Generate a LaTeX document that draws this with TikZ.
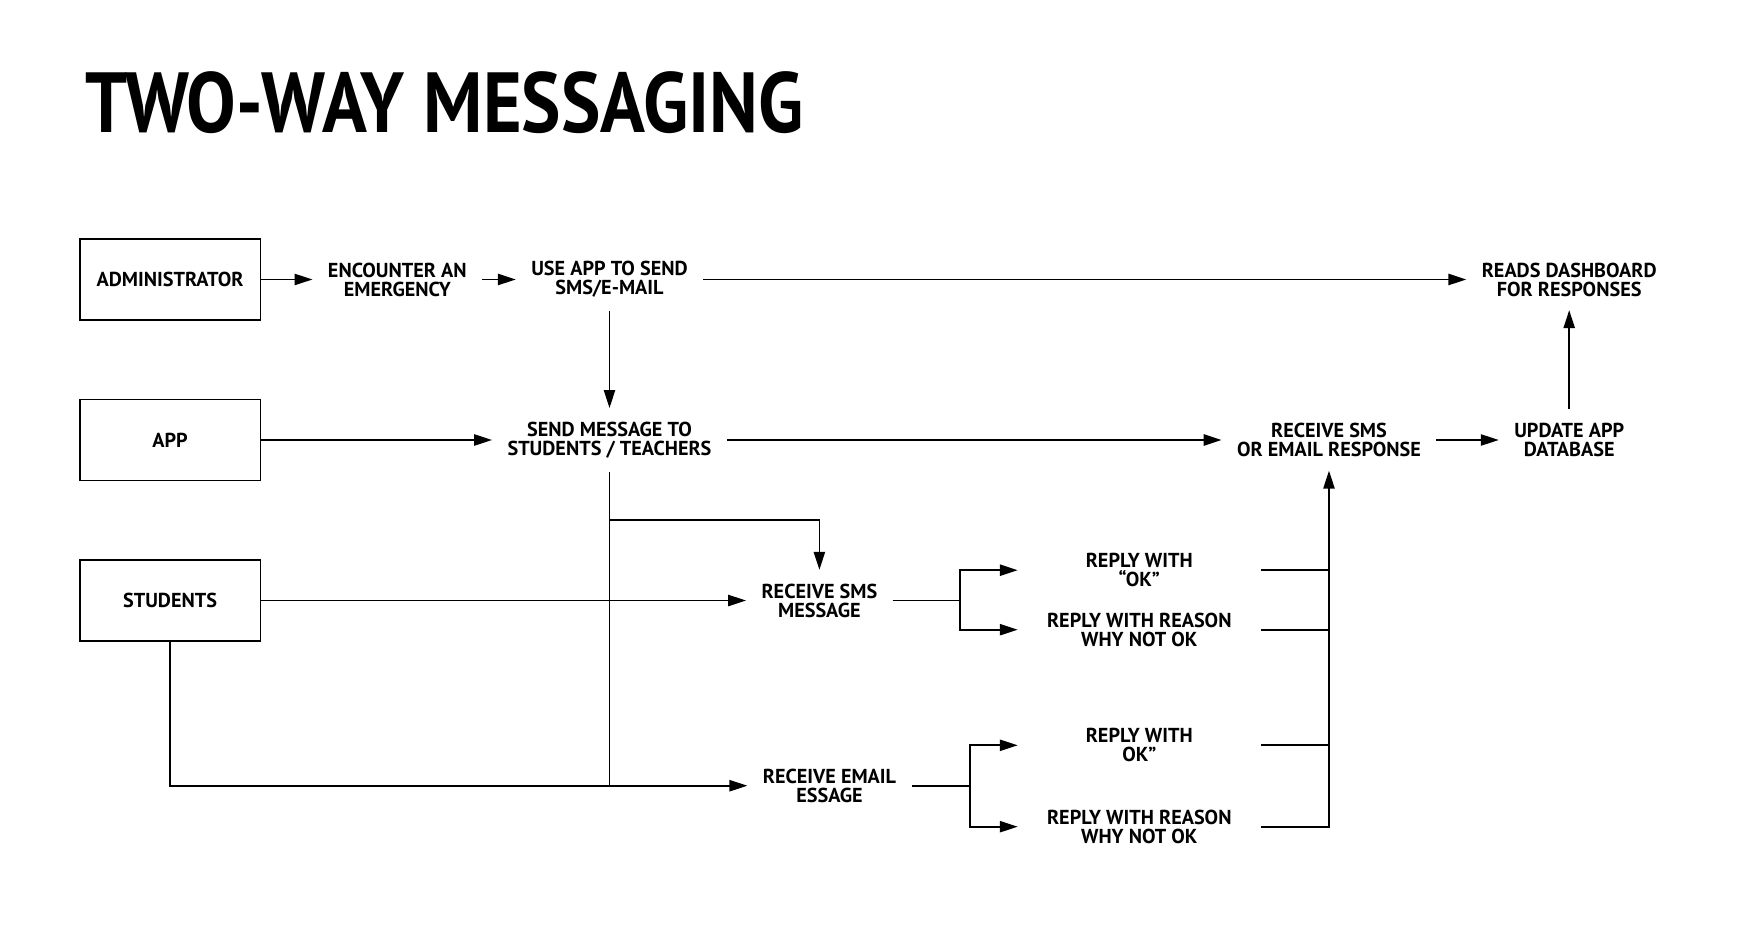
\documentclass[tikz,border=0pt]{standalone}
\usepackage{fontspec}
\setmainfont{PT Sans}
\usetikzlibrary{shapes,arrows.meta,positioning}

\begin{document}
\begin{tikzpicture}[x=1pt,y=-1pt,line width=1.6pt,
	font=\fontsize{18}{17}\selectfont\bfseries,
	actor/.style={shape=rectangle,draw,minimum width=161pt,minimum height=72pt,inner sep=0pt},
	act/.style={shape=rectangle,align=center,inner xsep=13pt,inner ysep=11.5pt},
	reply/.style={act,minimum width=215pt,inner xsep=0pt},
	flow/.style={-{Triangle[length=16pt,width=10pt]}}]
	\useasboundingbox (0,0) rectangle (1568,828.5);
	
	\node[anchor=base west,inner sep=0pt] (title) at (75,118) {\fontsize{76}{76}\selectfont\bfseries\scalebox{0.87}[1]{TWO-WAY MESSAGING}};
	
	\node[actor] (adm) at (151.5,249) {ADMINISTRATOR};
	\node[actor] (app) at (151.5,392) {APP};
	\node[actor] (stu) at (151.5,535) {STUDENTS};
	
	\node[act] (enc) at (354,249) {ENCOUNTER AN\\EMERGENCY};
	\node[act] (use) at (543,249) {USE APP TO SEND\\SMS/E-MAIL};
	\node[act] (reads) at (1398,249) {READS DASHBOARD\\FOR RESPONSES};
	\node[act] (send) at (543,392) {SEND MESSAGE TO\\STUDENTS / TEACHERS};
	\node[act] (resp) at (1184,392) {RECEIVE SMS\\OR EMAIL RESPONSE};
	\node[act] (upd) at (1398,392) {UPDATE APP\\DATABASE};
	\node[act] (rsms) at (730,535) {RECEIVE SMS\\MESSAGE};
	\node[act] (rmail) at (739,700) {RECEIVE EMAIL\\ESSAGE};
	
	\node[reply] (ok1) at (1015,508) {REPLY WITH\\“OK”};
	\node[reply] (why1) at (1015,561) {REPLY WITH REASON\\WHY NOT OK};
	\node[reply] (ok2) at (1015,664) {REPLY WITH\\OK”};
	\node[reply] (why2) at (1015,736.5) {REPLY WITH REASON\\WHY NOT OK};
	
	\coordinate (split) at (543,463);
	\coordinate (fork1) at (855,535);
	\coordinate (fork2) at (864,700);
	
	\path [flow] (adm) edge (enc);
	\path [flow] (enc) edge (use);
	\path [flow] (use) edge (reads);
	\path [flow] (use) edge (send);
	\path [flow] (app) edge (send);
	\path [flow] (send) edge (resp);
	\path [flow] (resp) edge (upd);
	\path [flow] (upd) edge (reads);
	\path [flow] (stu) edge (rsms);
	
	\draw (send.south) -- (send.south |- rmail.west);
	\draw [flow] (split) -| (rsms.north);
	\draw [flow] (stu.south) |- (rmail.west);
	
	\draw (rsms.east) -- (fork1);
	\draw [flow] (fork1) |- (ok1.west);
	\draw [flow] (fork1) |- (why1.west);
	\draw (rmail.east) -- (fork2);
	\draw [flow] (fork2) |- (ok2.west);
	\draw [flow] (fork2) |- (why2.west);
	
	\draw (ok1.east) -- (ok1.east -| resp.south);
	\draw (why1.east) -- (why1.east -| resp.south);
	\draw (ok2.east) -- (ok2.east -| resp.south);
	\draw [flow] (why2.east) -| (resp.south);
\end{tikzpicture}
\end{document}
